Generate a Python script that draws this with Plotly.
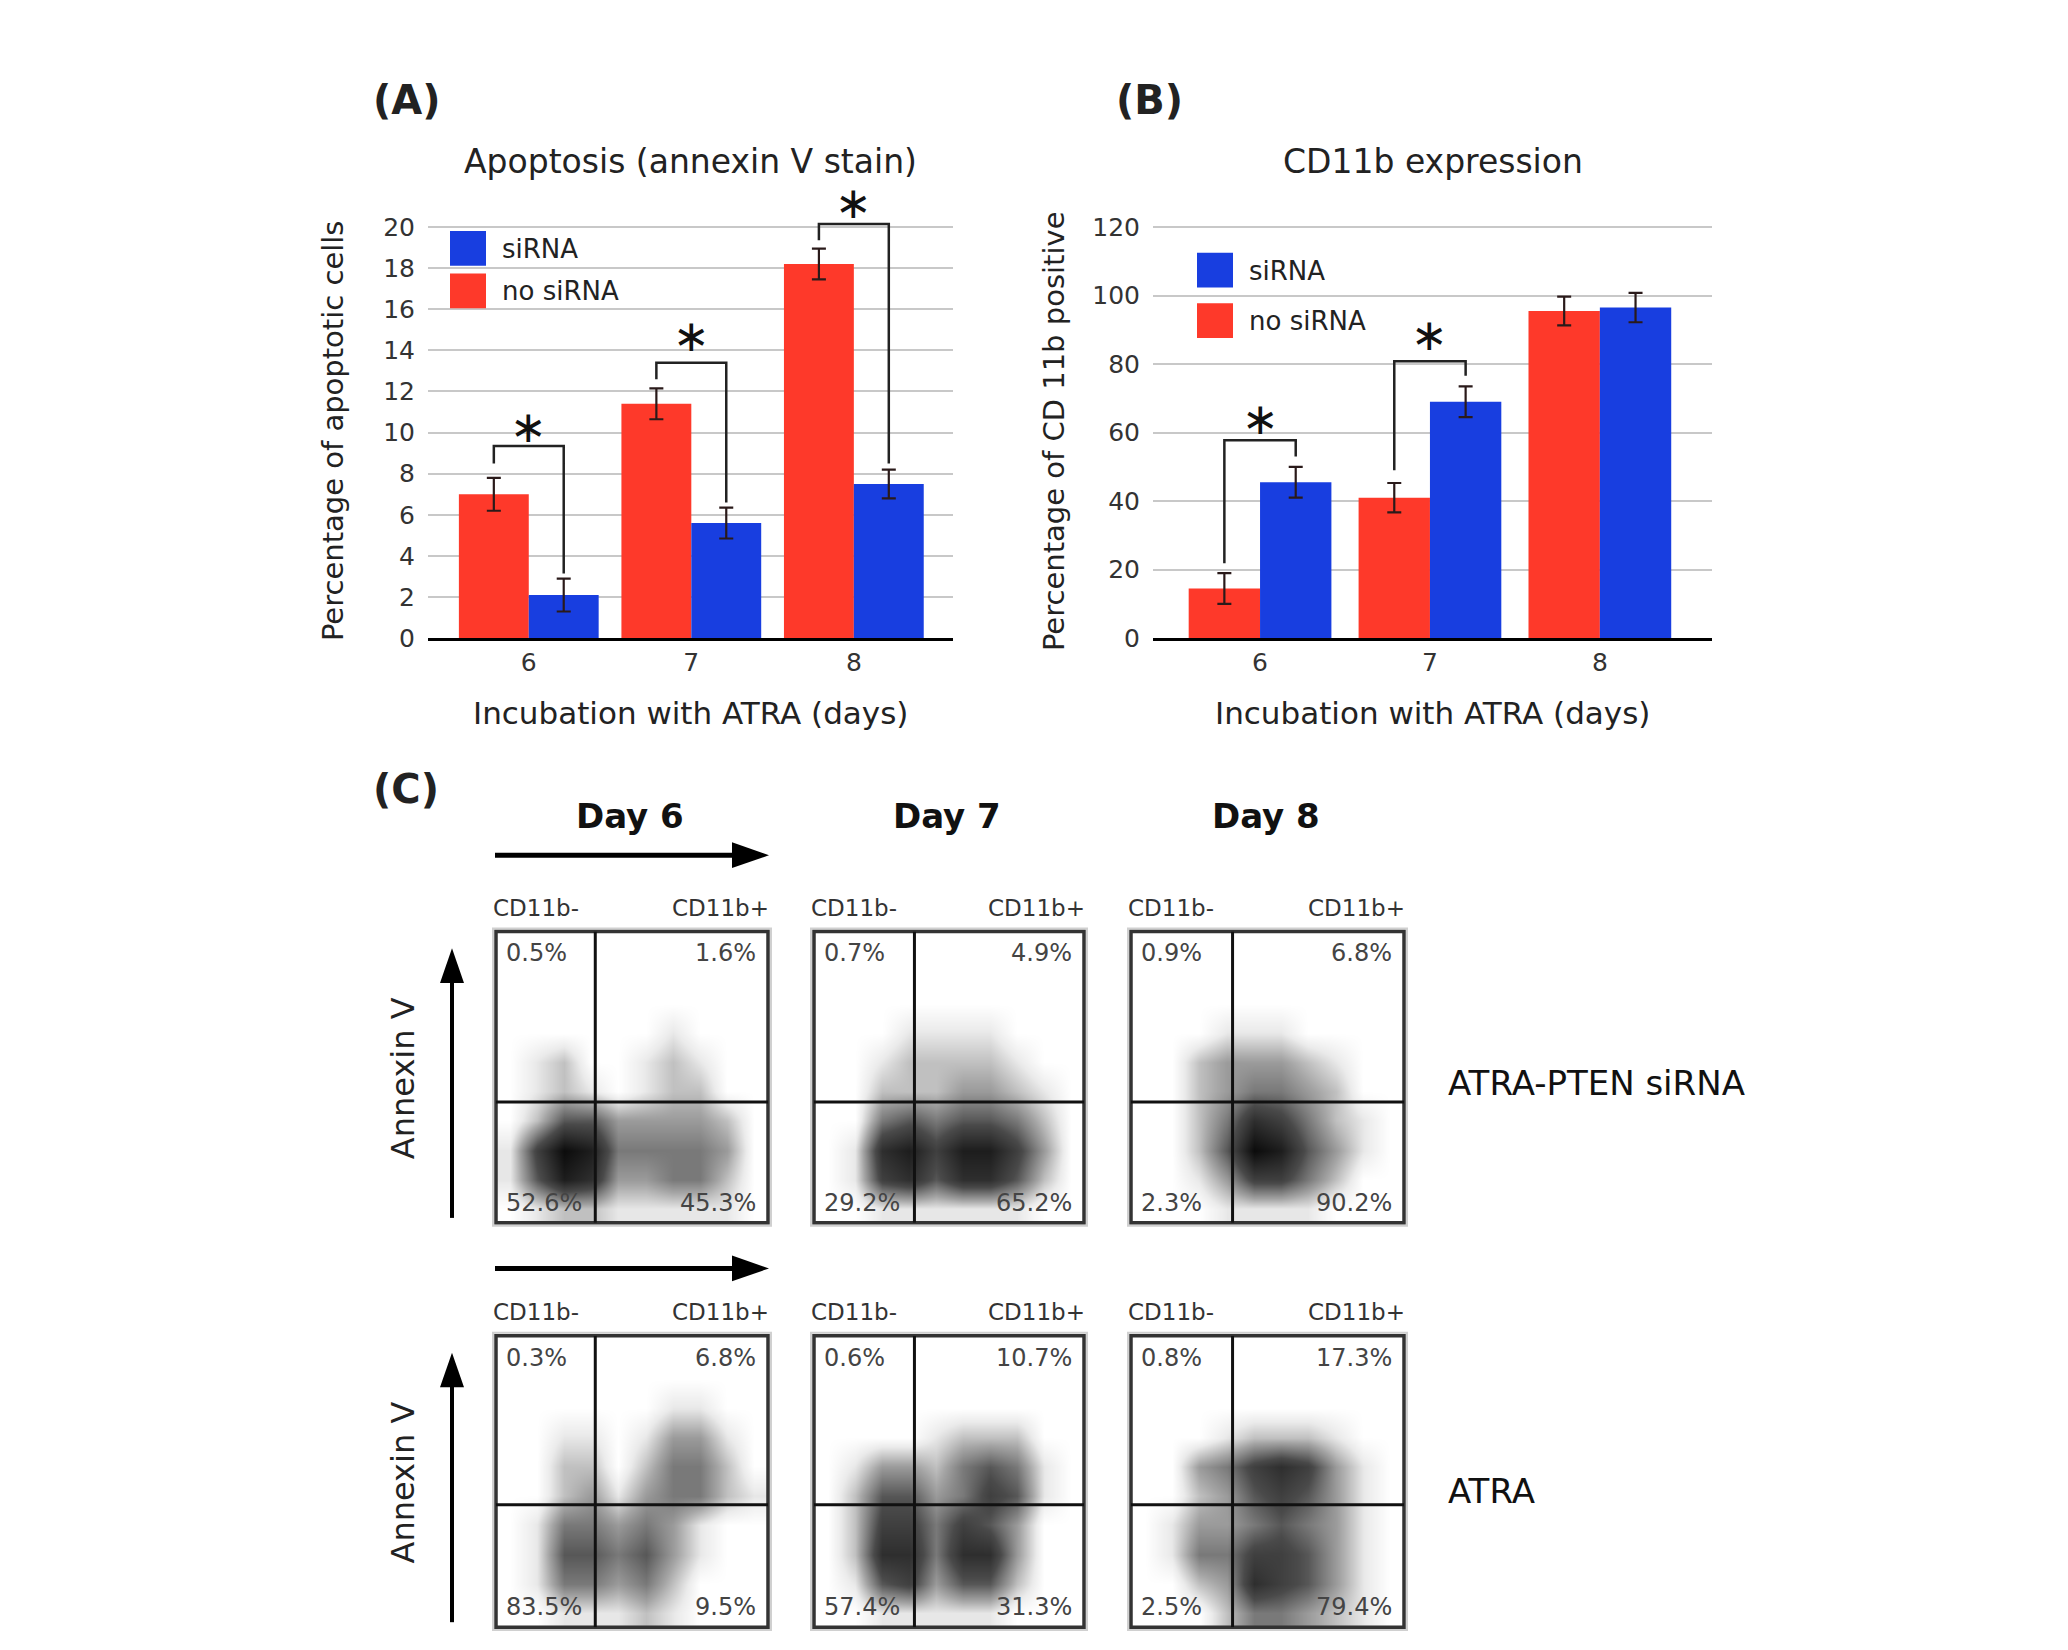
import plotly.graph_objects as go

W, H = 2068, 1650
FONT = 'DejaVu Sans'
RED = '#fe392a'
BLUE = '#183ee0'

days = ['6', '7', '8']
day_pos = [0, 1, 2]

# (A) apoptosis (annexin V stain)
apo_nosirna = [7.0, 11.4, 18.2]
apo_nosirna_err = [0.8, 0.75, 0.75]
apo_sirna = [2.1, 5.6, 7.5]
apo_sirna_err = [0.8, 0.75, 0.7]
# significance brackets: left foot, top, right foot
apo_brackets = [[8.5, 9.35, 3.15], [12.6, 13.4, 6.6], [19.35, 20.15, 8.5]]
apo_stars = [10.3, 14.7, 21.2]

# (B) CD11b expression
cd_nosirna = [14.5, 41.0, 95.5]
cd_nosirna_err = [4.5, 4.3, 4.2]
cd_sirna = [45.5, 69.0, 96.5]
cd_sirna_err = [4.5, 4.5, 4.3]
cd_brackets = [[21.9, 57.8, 53.0], [49.0, 80.8, 76.6]]
cd_stars = [64.1, 88.6]

# (C) flow cytometry, coarse density (rows top -> bottom)
d6_sirna = [
    [0, 0, 0, 0, 0, 0, 0, 0, 0, 0],
    [0, 0, 0, 0, 0, 0, 0, 0, 0, 0],
    [0, 0, 0, 0, 0, 0, 0, 0, 0, 0],
    [0, 0, 0, 0, 0, 0, 1, 0, 0, 0],
    [0, 1, 2, 0, 0, 1, 2, 1, 0, 0],
    [0, 1, 2, 1, 0, 1, 2, 2, 0, 0],
    [0, 2, 5, 5, 3, 3, 3, 3, 2, 0],
    [1, 6, 9, 8, 4, 4, 4, 4, 3, 0],
    [1, 5, 8, 7, 3, 3, 4, 4, 2, 0],
    [0, 1, 2, 2, 1, 1, 1, 1, 1, 0],
]
d7_sirna = [
    [0, 0, 0, 0, 0, 0, 0, 0, 0, 0],
    [0, 0, 0, 0, 0, 0, 0, 0, 0, 0],
    [0, 0, 0, 0, 0, 0, 0, 0, 0, 0],
    [0, 0, 0, 1, 1, 1, 1, 0, 0, 0],
    [0, 0, 1, 2, 2, 2, 2, 1, 0, 0],
    [0, 0, 2, 2, 2, 3, 3, 2, 1, 0],
    [0, 0, 4, 5, 4, 5, 5, 4, 2, 0],
    [0, 1, 7, 8, 6, 8, 8, 6, 3, 0],
    [0, 1, 6, 7, 5, 7, 7, 5, 2, 0],
    [0, 0, 1, 1, 1, 1, 1, 1, 0, 0],
]
d8_sirna = [
    [0, 0, 0, 0, 0, 0, 0, 0, 0, 0],
    [0, 0, 0, 0, 0, 0, 0, 0, 0, 0],
    [0, 0, 0, 0, 0, 0, 0, 0, 0, 0],
    [0, 0, 0, 1, 1, 1, 0, 0, 0, 0],
    [0, 0, 2, 3, 3, 3, 2, 1, 0, 0],
    [0, 0, 2, 3, 4, 4, 3, 2, 0, 0],
    [0, 0, 2, 4, 7, 6, 4, 2, 1, 0],
    [0, 0, 2, 5, 9, 8, 5, 3, 1, 0],
    [0, 0, 1, 3, 6, 6, 4, 2, 0, 0],
    [0, 0, 0, 1, 1, 1, 1, 0, 0, 0],
]
d6_atra = [
    [0, 0, 0, 0, 0, 0, 0, 0, 0, 0],
    [0, 0, 0, 0, 0, 0, 0, 0, 0, 0],
    [0, 0, 0, 0, 0, 0, 1, 1, 0, 0],
    [0, 0, 1, 1, 0, 1, 3, 3, 1, 0],
    [0, 0, 2, 2, 0, 2, 4, 4, 2, 0],
    [0, 0, 2, 3, 1, 3, 4, 4, 2, 1],
    [0, 1, 4, 4, 3, 4, 3, 1, 0, 0],
    [0, 1, 5, 5, 4, 5, 3, 1, 0, 0],
    [0, 1, 4, 4, 3, 4, 2, 0, 0, 0],
    [0, 0, 1, 1, 1, 2, 1, 0, 0, 0],
]
d7_atra = [
    [0, 0, 0, 0, 0, 0, 0, 0, 0, 0],
    [0, 0, 0, 0, 0, 0, 0, 0, 0, 0],
    [0, 0, 0, 0, 0, 0, 0, 0, 0, 0],
    [0, 0, 0, 0, 1, 2, 2, 2, 0, 0],
    [0, 1, 3, 3, 2, 4, 5, 4, 1, 0],
    [0, 2, 5, 5, 3, 4, 6, 5, 1, 0],
    [0, 2, 6, 6, 4, 6, 5, 3, 0, 0],
    [0, 2, 7, 7, 4, 7, 7, 3, 0, 0],
    [0, 1, 5, 6, 3, 5, 5, 2, 0, 0],
    [0, 0, 1, 1, 1, 1, 1, 0, 0, 0],
]
d8_atra = [
    [0, 0, 0, 0, 0, 0, 0, 0, 0, 0],
    [0, 0, 0, 0, 0, 0, 0, 0, 0, 0],
    [0, 0, 0, 0, 0, 0, 0, 0, 0, 0],
    [0, 0, 0, 1, 2, 2, 2, 1, 0, 0],
    [0, 0, 3, 4, 6, 7, 6, 3, 1, 0],
    [0, 0, 2, 3, 5, 6, 5, 3, 1, 0],
    [0, 1, 3, 3, 4, 5, 4, 3, 1, 0],
    [0, 1, 4, 4, 6, 6, 5, 3, 1, 0],
    [0, 0, 2, 3, 7, 6, 5, 3, 1, 0],
    [0, 0, 0, 2, 4, 4, 3, 2, 1, 0],
]
# quadrant percentages: upper-left, upper-right, lower-left, lower-right
q_sirna = [['0.5%', '1.6%', '52.6%', '45.3%'],
           ['0.7%', '4.9%', '29.2%', '65.2%'],
           ['0.9%', '6.8%', '2.3%', '90.2%']]
q_atra = [['0.3%', '6.8%', '83.5%', '9.5%'],
          ['0.6%', '10.7%', '57.4%', '31.3%'],
          ['0.8%', '17.3%', '2.5%', '79.4%']]
gate_x = [3.65, 3.72, 3.72]
gate_y = [4.15, 4.2]
day_titles = ['Day 6', 'Day 7', 'Day 8']


def fx(p):
    return p / W


def fy(p):
    return 1 - p / H


fig = go.Figure()
shapes = []
annots = []


def text(x, y, s, size, xa='center', ya='middle', bold=False, color='#222', angle=0):
    annots.append(dict(x=fx(x), y=fy(y), xref='paper', yref='paper', text=f'<b>{s}</b>' if bold else s,
                       showarrow=False, xanchor=xa, yanchor=ya, textangle=angle,
                       font=dict(family=FONT, size=size, color=color)))


# ---- bar charts ----
def bar_chart(n, red, red_err, blue, blue_err, brackets, stars, bw, ytop, ystep, yextra,
              px0, px1, xr, ytitle_x, title, ytitle, legend_x, legend_y, legend_dy):
    xa, ya = f'x{n}', f'y{n}'
    for vals, err, col, off in [(red, red_err, RED, -bw), (blue, blue_err, BLUE, 0)]:
        fig.add_trace(go.Bar(x=day_pos, y=vals, width=bw, offset=off, marker_color=col,
                             marker_line_width=0, showlegend=False,
                             error_y=dict(type='data', array=err, color='#2a1a1a', thickness=2.2, width=7),
                             xaxis=xa, yaxis=ya))
    for i, (a, top, b) in enumerate(brackets):
        xl, xr_ = day_pos[i] - bw / 2, day_pos[i] + bw / 2
        shapes.append(dict(type='path', xref=xa, yref=ya, line=dict(color='#222', width=2.5),
                           path=f'M{xl},{a} L{xl},{top} L{xr_},{top} L{xr_},{b}'))
        annots.append(dict(x=day_pos[i], y=stars[i], xref=xa, yref=ya, text='∗', showarrow=False,
                           font=dict(family=FONT, size=44, color='#111')))
    y0p, ytp = 636, 221
    per = (y0p - ytp) / ytop
    top_px = y0p - per * (ytop + yextra)
    fig.update_layout({
        f'xaxis{n}': dict(domain=[fx(px0), fx(px1)], range=xr, anchor=ya,
                          tickvals=day_pos, ticktext=days, ticks='', showgrid=False, zeroline=False,
                          showline=True, linecolor='black', linewidth=3,
                          tickfont=dict(family=FONT, size=25, color='#333')),
        f'yaxis{n}': dict(domain=[fy(y0p), fy(top_px)], range=[0, ytop + yextra], anchor=xa,
                          tickvals=list(range(0, ytop + 1, ystep)), ticks='', showline=False,
                          zeroline=False, showgrid=True, gridcolor='#c8c8c8', gridwidth=1.5,
                          ticklabelstandoff=12, tickfont=dict(family=FONT, size=25, color='#333')),
    })
    cx = (px0 + px1) / 2
    text(cx, 155, title, 33)
    text(cx, 711, 'Incubation with ATRA (days)', 31)
    text(ytitle_x, 427, ytitle, 29, angle=-90)
    # legend
    for k, (lab, col) in enumerate([('siRNA', BLUE), ('no siRNA', RED)]):
        yt = legend_y + k * legend_dy
        shapes.append(dict(type='rect', xref='paper', yref='paper', x0=fx(legend_x), x1=fx(legend_x + 36),
                           y0=fy(yt), y1=fy(yt + 35), fillcolor=col, line_width=0))
        text(legend_x + 50, yt + 18, lab, 26, xa='left')


bar_chart(1, apo_nosirna, apo_nosirna_err, apo_sirna, apo_sirna_err, apo_brackets, apo_stars,
          0.43, 20, 2, 2, 420, 945, [-0.62, 2.61], 325, 'Apoptosis (annexin V stain)',
          'Percentage of apoptotic cells', 442, 225, 43)
bar_chart(2, cd_nosirna, cd_nosirna_err, cd_sirna, cd_sirna_err, cd_brackets, cd_stars,
          0.42, 120, 20, 10, 1145, 1704, [-0.63, 2.66], 1046, 'CD11b expression',
          'Percentage of CD 11b positive', 1189, 247, 51)

text(363, 93, '(A)', 40, xa='left', bold=True)
text(1106, 93, '(B)', 40, xa='left', bold=True)
text(363, 788, '(C)', 40, xa='left', bold=True)

# ---- flow cytometry panels ----
rows_y = [(932, 1226), (1340, 1634)]
cols_x = [(488, 760), (806, 1076), (1123, 1396)]
grids = [[d6_sirna, d7_sirna, d8_sirna], [d6_atra, d7_atra, d8_atra]]
quads = [q_sirna, q_atra]
centers = [i + 0.5 for i in range(10)]
greys = [[0, '#ffffff'], [0.1, '#ebebeb'], [0.3, '#a5a5a5'], [0.6, '#4a4a4a'], [1, '#0c0c0c']]

n = 3
for r, (by0, by1) in enumerate(rows_y):
    for c, (bx0, bx1) in enumerate(cols_x):
        xa, ya = f'x{n}', f'y{n}'
        fig.add_trace(go.Heatmap(z=grids[r][c][::-1], x=centers, y=centers, zsmooth='best',
                                 colorscale=greys, zmin=0, zmax=9, showscale=False,
                                 xaxis=xa, yaxis=ya))
        fig.update_layout({
            f'xaxis{n}': dict(domain=[fx(bx0), fx(bx1)], range=[0, 10], anchor=ya, visible=False),
            f'yaxis{n}': dict(domain=[fy(by1), fy(by0)], range=[0, 10], anchor=xa, visible=False),
        })
        shapes.append(dict(type='rect', xref='paper', yref='paper', x0=fx(bx0 - 3), x1=fx(bx1 + 3),
                           y0=fy(by1 + 3), y1=fy(by0 - 3), line=dict(color='#d0d0d0', width=2)))
        shapes.append(dict(type='rect', xref='paper', yref='paper', x0=fx(bx0), x1=fx(bx1),
                           y0=fy(by1), y1=fy(by0), line=dict(color='#333', width=3.5)))
        shapes.append(dict(type='line', xref=xa, yref=ya, x0=gate_x[c], x1=gate_x[c], y0=0, y1=10,
                           line=dict(color='#111', width=3)))
        shapes.append(dict(type='line', xref=xa, yref=ya, x0=0, x1=10, y0=gate_y[r], y1=gate_y[r],
                           line=dict(color='#111', width=3)))
        q = quads[r][c]
        text(bx0 + 8, by0 + 22, q[0], 24, xa='left', color='#444')
        text(bx1 - 10, by0 + 22, q[1], 24, xa='right', color='#444')
        text(bx0 + 8, by1 - 20, q[2], 24, xa='left', color='#444')
        text(bx1 - 10, by1 - 20, q[3], 24, xa='right', color='#444')
        text(bx0 - 5, by0 - 24, 'CD11b-', 23, xa='left', color='#333')
        text(bx1 + 3, by0 - 24, 'CD11b+', 23, xa='right', color='#333')
        n += 1

for c, (bx0, bx1) in enumerate(cols_x):
    text((bx0 + bx1) / 2 - 2, 815, day_titles[c], 34, bold=True, color='#111')

# arrows
for ay in [855, 1272]:
    shapes.append(dict(type='line', xref='paper', yref='paper', x0=fx(487), x1=fx(730), y0=fy(ay), y1=fy(ay),
                       line=dict(color='black', width=5)))
    shapes.append(dict(type='path', xref='paper', yref='paper', fillcolor='black', line_width=0,
                       path=f'M{fx(724)},{fy(ay - 13)} L{fx(761)},{fy(ay)} L{fx(724)},{fy(ay + 13)} Z'))
for (by0, by1) in rows_y:
    shapes.append(dict(type='line', xref='paper', yref='paper', x0=fx(444), x1=fx(444),
                       y0=fy(by1 - 5), y1=fy(by0 + 40), line=dict(color='black', width=4)))
    shapes.append(dict(type='path', xref='paper', yref='paper', fillcolor='black', line_width=0,
                       path=f'M{fx(432)},{fy(by0 + 52)} L{fx(444)},{fy(by0 + 17)} L{fx(456)},{fy(by0 + 52)} Z'))
    text(395, (by0 + by1) / 2 + 1, 'Annexin V', 32, angle=-90, color='#222')

text(1438, 1085, 'ATRA-PTEN siRNA', 34, xa='left', color='#111')
text(1438, 1497, 'ATRA', 34, xa='left', color='#111')

fig.update_layout(width=W, height=H, margin=dict(l=0, r=0, t=0, b=0),
                  paper_bgcolor='white', plot_bgcolor='white',
                  shapes=shapes, annotations=annots, showlegend=False)
fig.write_html('out.html')
